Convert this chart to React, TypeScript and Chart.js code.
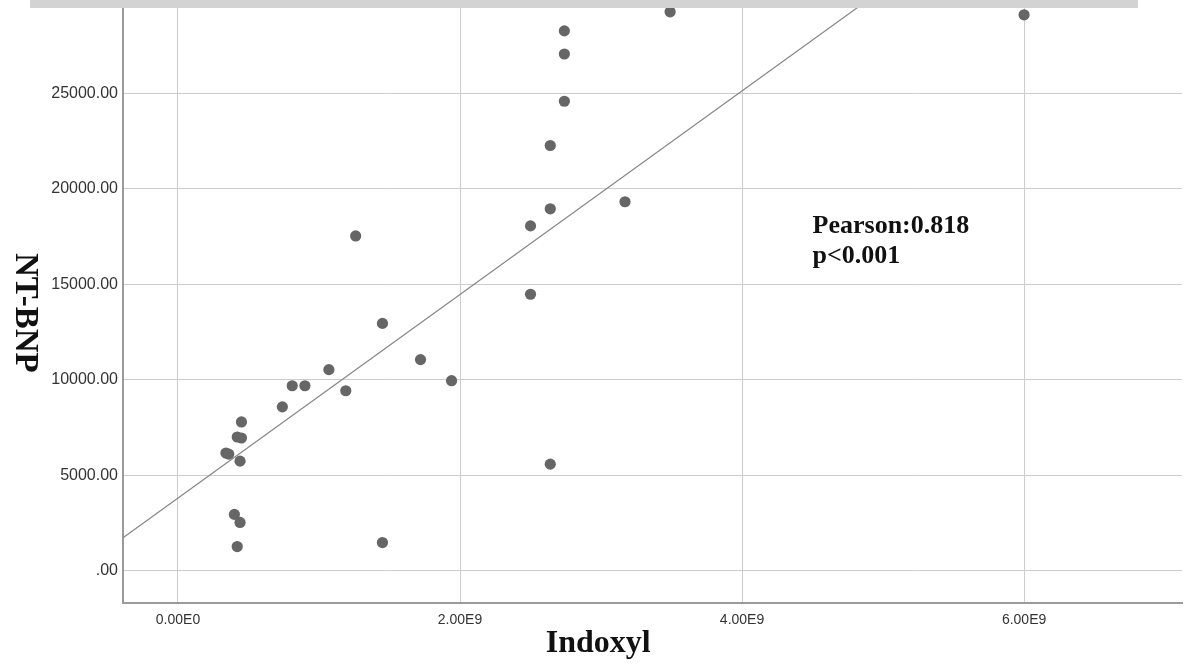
import React, { useEffect, useRef } from "react";
import { Chart, registerables } from "chart.js";

Chart.register(...registerables);

// Scatter data: Indoxyl (x) vs NT-BNP (y)
const indoxylValues = [
  3.49e9, 2.74e9, 2.74e9, 2.74e9, 2.64e9, 2.64e9, 3.17e9, 2.5e9, 1.26e9, 2.5e9,
  1.45e9, 1.72e9, 1.07e9, 1.94e9, 0.81e9, 0.9e9, 1.19e9, 0.74e9, 0.45e9, 0.42e9,
  0.45e9, 0.34e9, 0.36e9, 0.44e9, 2.64e9, 0.4e9, 0.44e9, 0.42e9, 1.45e9, 6.0e9,
];
const ntbnpValues = [
  29263, 28263, 27053, 24579, 22263, 18947, 19316, 18053, 17526, 14474,
  12947, 11053, 10526, 9947, 9684, 9684, 9421, 8579, 7789, 7000,
  6947, 6158, 6105, 5737, 5579, 2947, 2526, 1263, 1474, 29105,
];

// Fit line end points
const fitLineX = [-0.39e9, 7.12e9];
const fitLineY = [1721, 41750];

const xTickValues = [0, 2e9, 4e9, 6e9];
const yTickValues = [0, 5000, 10000, 15000, 20000, 25000, 30000];

const xAxisTitle = "Indoxyl";
const yAxisTitle = "NT-BNP";
const statLines = ["Pearson:0.818", "p<0.001"];

const fmtX = (v: number) => {
  if (v === 0) return "0.00E0";
  const e = Math.floor(Math.log10(Math.abs(v)));
  return (v / Math.pow(10, e)).toFixed(2) + "E" + e;
};
const fmtY = (v: number) => (v === 0 ? ".00" : v.toFixed(2));

const textPlugin = {
  id: "annotText",
  afterDraw(chart: any) {
    const ctx = chart.ctx;
    const xs = chart.scales.x;
    const ys = chart.scales.y;
    ctx.save();
    ctx.fillStyle = "#111";
    // y title
    ctx.font = "bold 33px 'Liberation Serif'";
    ctx.textAlign = "center";
    ctx.textBaseline = "middle";
    ctx.save();
    ctx.translate(25, ys.getPixelForValue(13500));
    ctx.rotate(Math.PI / 2);
    ctx.fillText(yAxisTitle, 0, 0);
    ctx.restore();
    // x title
    ctx.font = "bold 32px 'Liberation Serif'";
    ctx.textAlign = "center";
    ctx.textBaseline = "middle";
    ctx.fillText(xAxisTitle, xs.getPixelForValue(2.98e9), chart.height - 23);
    // stats
    ctx.font = "bold 26px 'Liberation Serif'";
    ctx.textAlign = "left";
    ctx.textBaseline = "alphabetic";
    ctx.fillText(statLines[0], xs.getPixelForValue(4.5e9), ys.getPixelForValue(17680));
    ctx.fillText(statLines[1], xs.getPixelForValue(4.5e9), ys.getPixelForValue(16110));
    ctx.restore();
  },
};

export default function App() {
  const ref = useRef<HTMLCanvasElement>(null);
  useEffect(() => {
    if (!ref.current) return;
    const points = indoxylValues.map((x, i) => ({ x, y: ntbnpValues[i] }));
    const line = fitLineX.map((x, i) => ({ x, y: fitLineY[i] }));
    const chart = new Chart(ref.current, {
      type: "scatter",
      data: {
        datasets: [
          {
            type: "line",
            data: line,
            borderColor: "#858585",
            borderWidth: 1.2,
            pointRadius: 0,
            fill: false,
          } as any,
          {
            data: points,
            backgroundColor: "#666666",
            borderColor: "#666666",
            borderWidth: 0,
            pointRadius: 5.6,
          },
        ],
      },
      options: {
        responsive: false,
        animation: false,
        layout: { padding: { top: 20, right: 7, left: 0, bottom: 0 } },
        plugins: { legend: { display: false }, tooltip: { enabled: false } },
        scales: {
          x: {
            type: "linear",
            min: -0.39e9,
            max: 7.12e9,
            afterBuildTicks: (s: any) => {
              s.ticks = xTickValues.map((v) => ({ value: v }));
            },
            afterFit: (s: any) => {
              s.height = 64;
            },
            grid: { color: "#cdcdcd", lineWidth: 1, drawTicks: false },
            border: { color: "#9a9a9a", width: 2 },
            ticks: {
              padding: 9,
              color: "#333",
              font: { family: "'Liberation Sans'", size: 14 },
              callback: (v: any) => fmtX(Number(v)),
            },
          },
          y: {
            type: "linear",
            min: -1691,
            max: 31974,
            afterBuildTicks: (s: any) => {
              s.ticks = yTickValues.map((v) => ({ value: v }));
            },
            afterFit: (s: any) => {
              s.width = 123;
            },
            grid: { color: "#cdcdcd", lineWidth: 1, drawTicks: false },
            border: { color: "#9a9a9a", width: 2 },
            ticks: {
              padding: 5,
              color: "#333",
              font: { family: "'Liberation Sans'", size: 16 },
              callback: (v: any) => fmtY(Number(v)),
            },
          },
        },
      },
      plugins: [textPlugin],
    });
    return () => chart.destroy();
  }, []);
  return (
    <div style={{ position: "fixed", left: 0, top: 0, width: 1189, height: 667, overflow: "hidden", background: "#fff" }}>
      <canvas ref={ref} width={1189} height={727} style={{ position: "absolute", left: 0, top: -60 }} />
      <div style={{ position: "absolute", left: 30, top: 0, width: 1108, height: 8, background: "#d3d3d3" }} />
    </div>
  );
}
